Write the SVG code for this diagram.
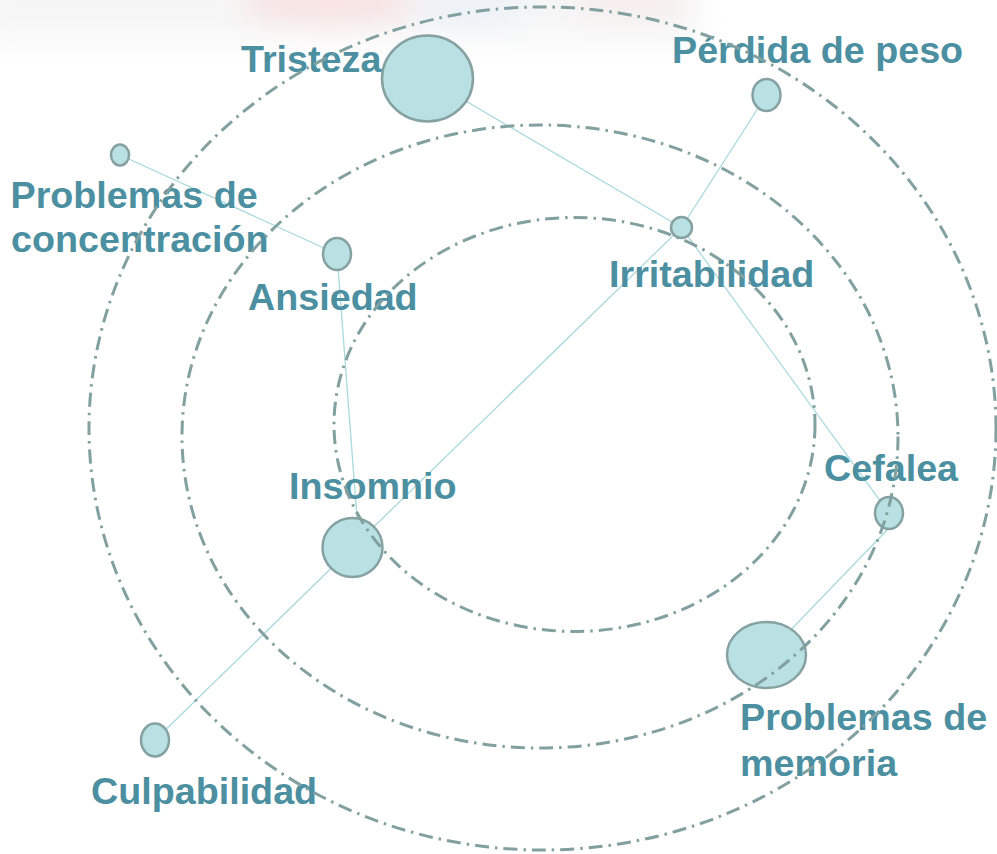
<svg xmlns="http://www.w3.org/2000/svg" width="997" height="854" viewBox="0 0 997 854">
<defs>
<filter id="blur" x="-50%" y="-50%" width="200%" height="200%"><feGaussianBlur stdDeviation="14"/></filter>
</defs>
<style>
.node{fill:#b9e0e3;stroke:#86a1a1;stroke-width:2.5}
.conn{stroke:#a9d9dd;stroke-width:1.3;fill:none}
.orbit{fill:none;stroke:#82a0a0;stroke-width:3;stroke-dasharray:14 6 2.5 6}
.lbl{font-family:"Liberation Sans",Arial,sans-serif;font-weight:bold;font-size:37.7px;fill:#4b8fa1}
</style>
<rect width="997" height="854" fill="#ffffff"/>
<g id="background" filter="url(#blur)" opacity="0.55">
<rect x="-20" y="-20" width="720" height="60" fill="#eeeeee"/>
<ellipse cx="330" cy="2" rx="90" ry="22" fill="#f2c9c9"/>
<ellipse cx="470" cy="8" rx="60" ry="18" fill="#dde6f0"/>
<ellipse cx="630" cy="2" rx="60" ry="14" fill="#f0dada"/>
</g>
<g id="connectors">
<line class="conn" x1="120" y1="155" x2="337" y2="254"/>
<line class="conn" x1="337" y1="254" x2="357" y2="518"/>
<line class="conn" x1="427.5" y1="78.5" x2="681.5" y2="227.5"/>
<line class="conn" x1="766.5" y1="95" x2="681.5" y2="227.5"/>
<line class="conn" x1="681.5" y1="227.5" x2="889" y2="513"/>
<line class="conn" x1="681.5" y1="227.5" x2="352.5" y2="547.5"/>
<line class="conn" x1="352.5" y1="547.5" x2="155" y2="740"/>
<line class="conn" x1="888" y1="529" x2="766.5" y2="655"/>
</g>
<g id="n-tristeza"><ellipse class="node" cx="427.5" cy="78.5" rx="45.5" ry="43"/><text class="lbl" x="241" y="72">Tristeza</text></g>
<g id="n-perdida"><ellipse class="node" cx="766.5" cy="95" rx="14" ry="16"/><text class="lbl" x="672" y="63">Pérdida de peso</text></g>
<g id="n-concentracion"><ellipse class="node" cx="120" cy="155" rx="9" ry="10.5"/><text class="lbl" x="10.5" y="208">Problemas de</text><text class="lbl" x="11" y="252">concentración</text></g>
<g id="n-ansiedad"><ellipse class="node" cx="337" cy="254" rx="14" ry="16"/><text class="lbl" x="248" y="310">Ansiedad</text></g>
<g id="n-irritabilidad"><ellipse class="node" cx="681.5" cy="227.5" rx="10.5" ry="10.5"/><text class="lbl" x="609" y="287">Irritabilidad</text></g>
<g id="n-insomnio"><ellipse class="node" cx="352.5" cy="547.5" rx="30" ry="29.5"/><text class="lbl" x="289" y="499">Insomnio</text></g>
<g id="n-cefalea"><ellipse class="node" cx="889" cy="513" rx="14" ry="16"/><text class="lbl" x="824" y="481">Cefalea</text></g>
<g id="n-memoria"><ellipse class="node" cx="766.5" cy="655" rx="39.5" ry="33"/><text class="lbl" x="740" y="730">Problemas de</text><text class="lbl" x="740" y="776">memoria</text></g>
<g id="n-culpabilidad"><ellipse class="node" cx="155" cy="740" rx="14" ry="16.5"/><text class="lbl" x="91" y="804">Culpabilidad</text></g>
<g id="orbits">
<ellipse class="orbit" cx="542.5" cy="428.5" rx="453.5" ry="421.5"/>
<ellipse class="orbit" cx="540" cy="436.5" rx="358" ry="311.5"/>
<ellipse class="orbit" cx="574.5" cy="424.5" rx="240.5" ry="207"/>
</g>
</svg>
